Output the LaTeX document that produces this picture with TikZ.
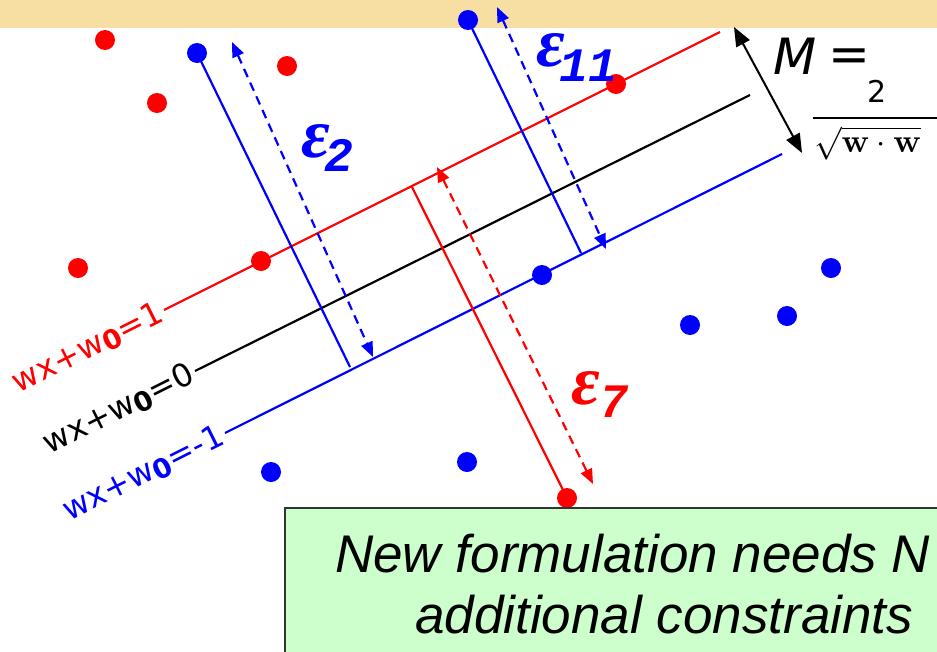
\documentclass[tikz,border=0pt]{standalone}
\usepackage[no-math]{fontspec}
\setmainfont{DejaVu Sans}
\newfontfamily\boxfont{Liberation Sans}
\newfontfamily\epsfont{Liberation Serif}
\newfontfamily\subfont{Liberation Mono}
\usetikzlibrary{arrows.meta}
\definecolor{banner}{HTML}{F7DFA4}
\definecolor{boxgreen}{HTML}{CCFFCC}
\definecolor{myred}{HTML}{FF0000}
\definecolor{myblue}{HTML}{0000FF}
\begin{document}
\begin{tikzpicture}[x=1pt,y=-1pt,
  dotr/.style={circle,fill=myred,inner sep=0pt,minimum size=20pt},
  dotb/.style={circle,fill=myblue,inner sep=0pt,minimum size=20pt},
  hyp/.style={line width=2.2pt},
  dtip/.style={{Triangle[length=15pt,width=12pt]}-{Triangle[length=15pt,width=12pt]}},
  dashline/.style={line width=2.2pt,dash pattern=on 9pt off 6pt,dtip},
  lbl/.style={font=\fontsize{32}{32}\selectfont,rotate=26.6,anchor=east,inner sep=3pt},
  epsl/.style={font=\epsfont\bfseries\itshape\fontsize{70}{70}\selectfont,inner sep=0pt},
  subl/.style={font=\subfont\bfseries\itshape\fontsize{48}{48}\selectfont,inner sep=0pt},
  boxtxt/.style={font=\boxfont\itshape\fontsize{53}{53}\selectfont,inner sep=0pt,anchor=base west},
]
\useasboundingbox (0,0) rectangle (937,651);
% banner
\fill[banner] (0,0) rectangle (937,28);
% hyperplanes
\coordinate (r1) at (164,310); \coordinate (r2) at (720,32);
\coordinate (k1) at (195,371); \coordinate (k2) at (750,95);
\coordinate (b1) at (225,433); \coordinate (b2) at (782,154);
\draw[hyp,myred] (r1) -- (r2);
\draw[hyp,black] (k1) -- (k2);
\draw[hyp,myblue] (b1) -- (b2);
% labels
\node[lbl,text=myred] (lr) at (r1) {wx+w\raisebox{-0.12em}{\bfseries\fontsize{27}{27}\selectfont 0}=1};
\node[lbl,text=black] (lk) at (k1) {wx+w\raisebox{-0.12em}{\bfseries\fontsize{27}{27}\selectfont 0}=0};
\node[lbl,text=myblue] (lb) at (b1) {wx+w\raisebox{-0.12em}{\bfseries\fontsize{27}{27}\selectfont 0}=-1};
% dots
\node[dotr] (p1) at (105,40) {};
\node[dotr] (p2) at (287,66) {};
\node[dotr] (p3) at (157,103) {};
\node[dotr] (p4) at (78,268) {};
\node[dotr] (p5) at (261,261) {};
\node[dotr] (p6) at (616,84) {};
\node[dotr] (p7) at (567,498) {};
\node[dotb] (q1) at (197,53) {};
\node[dotb] (q2) at (468,20) {};
\node[dotb] (q3) at (542,275) {};
\node[dotb] (q4) at (690,325) {};
\node[dotb] (q5) at (787,316) {};
\node[dotb] (q6) at (831,268) {};
\node[dotb] (q7) at (271,472) {};
\node[dotb] (q8) at (467,462) {};
% slack segments
\coordinate (f2) at (350,367);
\coordinate (f11) at (581,253);
\coordinate (f7) at (412,187);
\draw[hyp,myblue] (q1.center) -- (f2);
\draw[hyp,myblue] (q2.center) -- (f11);
\draw[hyp,myred] (p7.center) -- (f7);
\coordinate (d2a) at (232,42); \coordinate (d2b) at (373,357);
\coordinate (d11a) at (497,7); \coordinate (d11b) at (606,249);
\coordinate (d7a) at (437,167); \coordinate (d7b) at (593,484);
\draw[dashline,myblue] (d2a) -- (d2b);
\draw[dashline,myblue] (d11a) -- (d11b);
\draw[dashline,myred] (d7a) -- (d7b);
% epsilon labels
\node[epsl,text=myblue] (e2) at (316,141) {ε};
\node[subl,text=myblue] (s2) at (339,155) {2};
\node[epsl,text=myblue] (e11) at (551,50) {ε};
\node[subl,text=myblue] (s11) at (588,66) {11};
\node[epsl,text=myred] (e7) at (586,388) {ε};
\node[subl,text=myred] (s7) at (614,402) {7};
% margin arrow and formula
\coordinate (ma) at (734,27); \coordinate (mb) at (802,153);
\draw[line width=2pt,{Triangle[length=19pt,width=15pt]}-{Triangle[length=19pt,width=15pt]}] (ma) -- (mb);
\node[font=\itshape\fontsize{50}{50}\selectfont,inner sep=0pt] (mM) at (795,56) {M};
\node[font=\fontsize{50}{50}\selectfont,inner sep=0pt] (meq) at (849,60) {=};
\node[font=\fontsize{30}{30}\selectfont,inner sep=0pt] (m2) at (877,91) {2};
\draw[line width=1.4pt] (813,118) -- (960,118);
\node[inner sep=0pt,anchor=north west] (msq) at (814,126) {\scalebox{3.3}{$\sqrt{\mathbf{w}\cdot\mathbf{w}}$}};
% green box
\draw[fill=boxgreen,draw=black!80,line width=1.5pt] (285,508) rectangle (980,690);
\node[boxtxt] (t1) at (335,572) {New formulation needs N};
\node[boxtxt] (t2) at (415,633) {additional constraints};
\end{tikzpicture}
\end{document}
